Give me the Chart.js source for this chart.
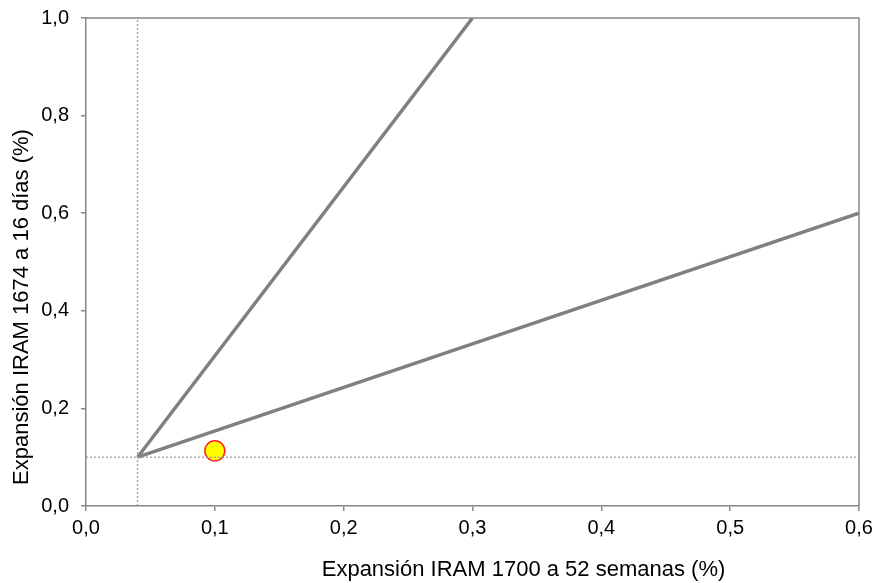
<!DOCTYPE html>
<html><head><meta charset="utf-8">
<script src="https://cdn.jsdelivr.net/npm/chart.js@4/dist/chart.umd.min.js"></script>
<style>html,body{margin:0;padding:0;background:#fff}#w{width:873px;height:583px}</style>
</head><body><div id="w"><canvas id="c"></canvas></div>
<script>
const xTicks = [0, 0.1, 0.2, 0.3, 0.4, 0.5, 0.6];
const yTicks = [0, 0.2, 0.4, 0.6, 0.8, 1.0];
const upperLineX = [0.04, 0.3];
const upperLineY = [0.1, 1.0];
const lowerLineX = [0.04, 0.6];
const lowerLineY = [0.1, 0.6];
const refVertX = [0.04, 0.04];
const refVertY = [0, 1.0];
const refHorzX = [0, 0.6];
const refHorzY = [0.1, 0.1];
const pointX = [0.1];
const pointY = [0.113];

const pts = (xs, ys) => xs.map((x, i) => ({x, y: ys[i]}));
const fmt = v => Number(v).toFixed(1).replace('.', ',');
const FAM = "'Liberation Sans', Arial, sans-serif";

function shiftTitle(scale, dx, dy) {
  if (scale._shifted) return;
  const orig = scale.drawTitle.bind(scale);
  scale.drawTitle = function () {
    const ctx = this.ctx;
    ctx.save(); ctx.translate(dx, dy); orig(); ctx.restore();
  };
  scale._shifted = true;
}

const frame = {
  id: 'frame',
  afterLayout(chart) {
    shiftTitle(chart.scales.x, 51, 0);
    shiftTitle(chart.scales.y, 9, 45);
  },
  afterDraw(chart) {
    const {ctx, chartArea: a} = chart;
    ctx.save();
    ctx.strokeStyle = '#888888';
    ctx.lineWidth = 1.5;
    ctx.beginPath();
    ctx.moveTo(a.left, a.top); ctx.lineTo(a.right, a.top); ctx.lineTo(a.right, a.bottom);
    ctx.stroke();
    ctx.restore();
  }
};

new Chart(document.getElementById('c'), {
  type: 'scatter',
  data: {
    datasets: [
      {data: pts(refVertX, refVertY), showLine: true, borderColor: '#999999', borderWidth: 1.2, borderDash: [2, 2], pointRadius: 0},
      {data: pts(refHorzX, refHorzY), showLine: true, borderColor: '#999999', borderWidth: 1.2, borderDash: [2, 2], pointRadius: 0},
      {data: pts(upperLineX, upperLineY), showLine: true, borderColor: '#808080', borderWidth: 3.5, pointRadius: 0},
      {data: pts(lowerLineX, lowerLineY), showLine: true, borderColor: '#808080', borderWidth: 3.5, pointRadius: 0},
      {data: pts(pointX, pointY), pointRadius: 10, pointBackgroundColor: '#ffff00', pointBorderColor: '#ff2020', pointBorderWidth: 1.5}
    ]
  },
  options: {
    responsive: true, maintainAspectRatio: false, animation: false,
    layout: {padding: {top: 18, right: 14, left: 0, bottom: 0}},
    plugins: {legend: {display: false}, tooltip: {enabled: false}},
    scales: {
      x: {
        type: 'linear', min: 0, max: 0.6,
        afterBuildTicks: s => { s.ticks = xTicks.map(v => ({value: v})); },
        afterFit: s => { s.height = 77; s.paddingLeft = 0; s.paddingRight = 0; },
        grid: {drawOnChartArea: false, drawTicks: true, tickLength: 5, color: '#888888', lineWidth: 1.5},
        border: {color: '#888888', width: 1.5},
        ticks: {callback: fmt, color: '#000', font: {family: FAM, size: 20}, padding: 5, maxRotation: 0},
        title: {display: true, text: 'Expansión IRAM 1700 a 52 semanas (%)', color: '#000', font: {family: FAM, size: 22}, padding: {top: 8, bottom: 0}}
      },
      y: {
        type: 'linear', min: 0, max: 1.0,
        afterBuildTicks: s => { s.ticks = yTicks.map(v => ({value: v})); },
        afterFit: s => { s.width = 86; s.paddingTop = 0; s.paddingBottom = 0; },
        grid: {drawOnChartArea: false, drawTicks: true, tickLength: 5, color: '#888888', lineWidth: 1.5},
        border: {color: '#888888', width: 1.5},
        ticks: {callback: fmt, color: '#000', font: {family: FAM, size: 20}, padding: 12},
        title: {display: true, text: 'Expansión IRAM 1674 a 16 días (%)', color: '#000', font: {family: FAM, size: 22}, padding: {top: 0, bottom: 6}}
      }
    }
  },
  plugins: [frame]
});
</script>
</body></html>
